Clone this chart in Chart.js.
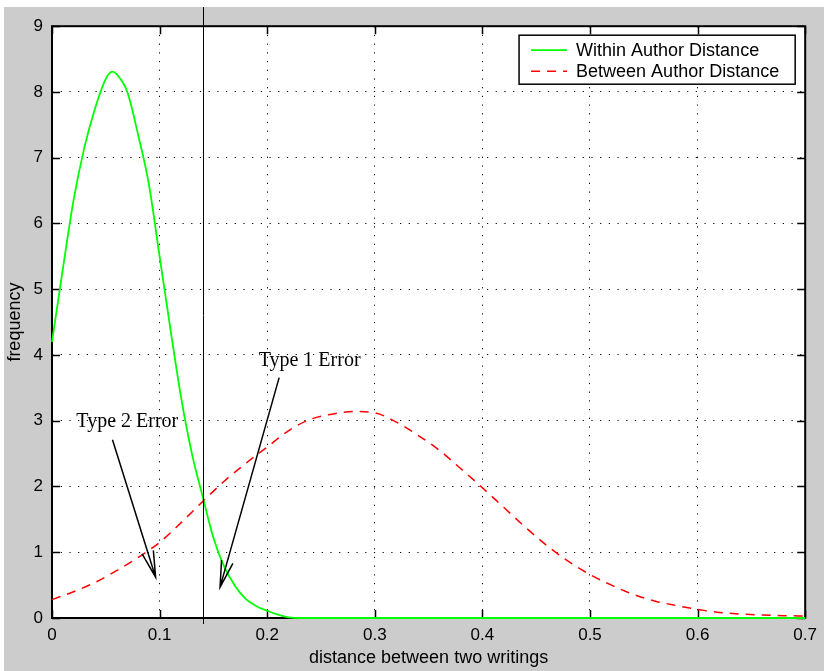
<!DOCTYPE html>
<html>
<head>
<meta charset="utf-8">
<script src="https://cdn.jsdelivr.net/npm/chart.js@4.4.1/dist/chart.umd.min.js"></script>
<style>
  body { margin: 0; background: #fff; }
  #wrap { position: absolute; left: 4px; top: 7px; }
</style>
</head>
<body>
<div id="wrap"><canvas id="chart" width="820" height="664"></canvas></div>
<script>
// values
const greenX = [0, 0.01, 0.02, 0.03, 0.04, 0.05, 0.056, 0.06, 0.07, 0.08, 0.09, 0.10, 0.11, 0.12,
  0.13, 0.14, 0.15, 0.16, 0.17, 0.18, 0.19, 0.20, 0.21, 0.22, 0.23, 0.7];
const greenY = [4.2, 5.3, 6.35, 7.15, 7.75, 8.2, 8.31, 8.27, 8.0, 7.35, 6.6, 5.5, 4.4, 3.35,
  2.5, 1.85, 1.22, 0.78, 0.49, 0.29, 0.18, 0.11, 0.05, 0.01, 0, 0];

const redX = [0, 0.02, 0.04, 0.06, 0.08, 0.10, 0.12, 0.14, 0.16, 0.18, 0.20, 0.22, 0.24,
  0.26, 0.28, 0.30, 0.32, 0.34, 0.36, 0.38, 0.40, 0.42, 0.44, 0.46, 0.48, 0.50, 0.52,
  0.54, 0.56, 0.58, 0.60, 0.62, 0.64, 0.66, 0.68, 0.70];
const redY = [0.28, 0.4, 0.54, 0.72, 0.92, 1.15, 1.45, 1.77, 2.08, 2.35, 2.6, 2.85, 3.02,
  3.1, 3.14, 3.12, 2.98, 2.78, 2.55, 2.27, 1.98, 1.68, 1.38, 1.1, 0.86, 0.66, 0.5,
  0.36, 0.26, 0.19, 0.13, 0.085, 0.06, 0.045, 0.035, 0.03];

const seriesLabels = ['Within Author Distance', 'Between Author Distance'];
const xTickLabels = ['0', '0.1', '0.2', '0.3', '0.4', '0.5', '0.6', '0.7'];
const yTickLabels = ['0', '1', '2', '3', '4', '5', '6', '7', '8', '9'];

const thresholdX = 0.14;

// annotations: text position and arrow from/to, in data units
const annoLabels = ['Type 2 Error', 'Type 1 Error'];
const annoTextX = [0.07, 0.2394];
const annoTextY = [2.98, 3.91];
const arrowFromX = [0.0562, 0.2111];
const arrowFromY = [2.71, 3.655];
const arrowToX = [0.0963, 0.1562];
const arrowToY = [0.62, 0.47];

const SANS = '"Liberation Sans", Arial, sans-serif';
const SERIF = '"Liberation Serif", "Times New Roman", serif';

const frame = {
  id: 'frame',
  beforeDraw(chart) {
    const { ctx, chartArea: a } = chart;
    ctx.save();
    ctx.fillStyle = '#cccccc';
    ctx.fillRect(0, 0, chart.width, chart.height);
    ctx.fillStyle = '#ffffff';
    ctx.fillRect(a.left, a.top, a.right - a.left, a.bottom - a.top);
    ctx.restore();
  },
  beforeDatasetsDraw(chart) {
    const { ctx, chartArea: a, scales } = chart;
    ctx.save();
    ctx.strokeStyle = '#000';
    ctx.lineWidth = 1.5;
    // inward tick marks on all four sides
    const tl = 8;
    ctx.beginPath();
    scales.x.ticks.forEach(t => {
      const px = Math.round(scales.x.getPixelForValue(t.value)) + 0.5;
      ctx.moveTo(px, a.bottom); ctx.lineTo(px, a.bottom - tl);
      ctx.moveTo(px, a.top); ctx.lineTo(px, a.top + tl);
    });
    scales.y.ticks.forEach(t => {
      const py = Math.round(scales.y.getPixelForValue(t.value)) + 0.5;
      ctx.moveTo(a.left, py); ctx.lineTo(a.left + tl, py);
      ctx.moveTo(a.right, py); ctx.lineTo(a.right - tl, py);
    });
    ctx.stroke();
    ctx.lineWidth = 2;
    ctx.strokeRect(a.left, a.top, a.right - a.left, a.bottom - a.top);
    ctx.restore();
  },
  afterDraw(chart) {
    const { ctx, chartArea: a, scales } = chart;
    const sx = scales.x, sy = scales.y;
    ctx.save();

    // threshold line
    const tx = Math.round(sx.getPixelForValue(thresholdX)) + 0.5;
    ctx.strokeStyle = '#000';
    ctx.lineWidth = 1;
    ctx.beginPath();
    ctx.moveTo(tx, 0);
    ctx.lineTo(tx, a.bottom + 6);
    ctx.stroke();

    // annotation arrows
    ctx.lineWidth = 1.5;
    annoLabels.forEach((lab, i) => {
      const x0 = sx.getPixelForValue(arrowFromX[i]), y0 = sy.getPixelForValue(arrowFromY[i]);
      const x1 = sx.getPixelForValue(arrowToX[i]), y1 = sy.getPixelForValue(arrowToY[i]);
      const ang = Math.atan2(y0 - y1, x0 - x1);
      const head = 27, spread = 0.22;
      ctx.beginPath();
      ctx.moveTo(x0, y0);
      ctx.lineTo(x1, y1);
      ctx.moveTo(x1 + head * Math.cos(ang - spread), y1 + head * Math.sin(ang - spread));
      ctx.lineTo(x1, y1);
      ctx.lineTo(x1 + head * Math.cos(ang + spread), y1 + head * Math.sin(ang + spread));
      ctx.stroke();

      ctx.fillStyle = '#000';
      ctx.font = '20px ' + SERIF;
      ctx.textAlign = 'center';
      ctx.textBaseline = 'middle';
      ctx.fillText(lab, sx.getPixelForValue(annoTextX[i]), sy.getPixelForValue(annoTextY[i]));
    });

    // legend box
    ctx.font = '18px ' + SANS;
    const textW = Math.max(...seriesLabels.map(s => ctx.measureText(s).width));
    const bw = 57 + textW + 16, bh = 49;
    const bx = a.right - 10 - bw, by = a.top + 9;
    ctx.fillStyle = '#fff';
    ctx.fillRect(bx, by, bw, bh);
    ctx.strokeStyle = '#000';
    ctx.lineWidth = 1.5;
    ctx.strokeRect(bx, by, bw, bh);
    chart.data.datasets.forEach((ds, i) => {
      const ly = by + 15 + i * 21;
      ctx.strokeStyle = ds.borderColor;
      ctx.lineWidth = ds.borderWidth;
      ctx.setLineDash(ds.borderDash || []);
      ctx.beginPath();
      ctx.moveTo(bx + 12, ly);
      ctx.lineTo(bx + 48, ly);
      ctx.stroke();
      ctx.setLineDash([]);
      ctx.fillStyle = '#000';
      ctx.textAlign = 'left';
      ctx.textBaseline = 'middle';
      ctx.fillText(seriesLabels[i], bx + 57, ly + 1);
    });
    ctx.restore();
  }
};

const ctx = document.getElementById('chart').getContext('2d');
new Chart(ctx, {
  type: 'line',
  data: {
    datasets: [
      {
        label: seriesLabels[0],
        data: greenX.map((x, i) => ({ x, y: greenY[i] })),
        borderColor: '#00ff00',
        borderWidth: 1.8,
        pointRadius: 0,
        cubicInterpolationMode: 'monotone',
        fill: false,
        clip: 4
      },
      {
        label: seriesLabels[1],
        data: redX.map((x, i) => ({ x, y: redY[i] })),
        borderColor: '#ff0000',
        borderWidth: 1.5,
        borderDash: [9, 7],
        pointRadius: 0,
        cubicInterpolationMode: 'monotone',
        fill: false,
        clip: 4
      }
    ]
  },
  options: {
    responsive: false,
    animation: false,
    devicePixelRatio: 1,
    layout: { padding: { top: 11, right: 16, left: 0, bottom: 0 } },
    plugins: {
      legend: { display: false },
      tooltip: { enabled: false }
    },
    scales: {
      x: {
        type: 'linear',
        min: 0,
        max: 0.7,
        afterFit: s => { s.height = 53; },
        ticks: {
          stepSize: 0.1,
          padding: 7,
          color: '#000',
          font: { family: SANS, size: 17 },
          callback: (v, i) => xTickLabels[i]
        },
        grid: { color: '#000', lineWidth: 1, drawTicks: false },
        border: { display: false, dash: [1.2, 7.5] },
        title: {
          display: true,
          text: 'distance between two writings',
          color: '#000',
          font: { family: SANS, size: 18 },
          padding: { top: 0, bottom: 2 }
        }
      },
      y: {
        type: 'linear',
        min: 0,
        max: 9,
        afterFit: s => { s.width = 48; },
        ticks: {
          stepSize: 1,
          padding: 9,
          color: '#000',
          font: { family: SANS, size: 17 },
          callback: (v, i) => yTickLabels[i]
        },
        grid: { color: '#000', lineWidth: 1, drawTicks: false },
        border: { display: false, dash: [1.2, 7.5] },
        title: {
          display: true,
          text: 'frequency',
          color: '#000',
          font: { family: SANS, size: 18 },
          padding: { top: 0, bottom: 0 }
        }
      }
    }
  },
  plugins: [frame]
});
</script>
</body>
</html>
